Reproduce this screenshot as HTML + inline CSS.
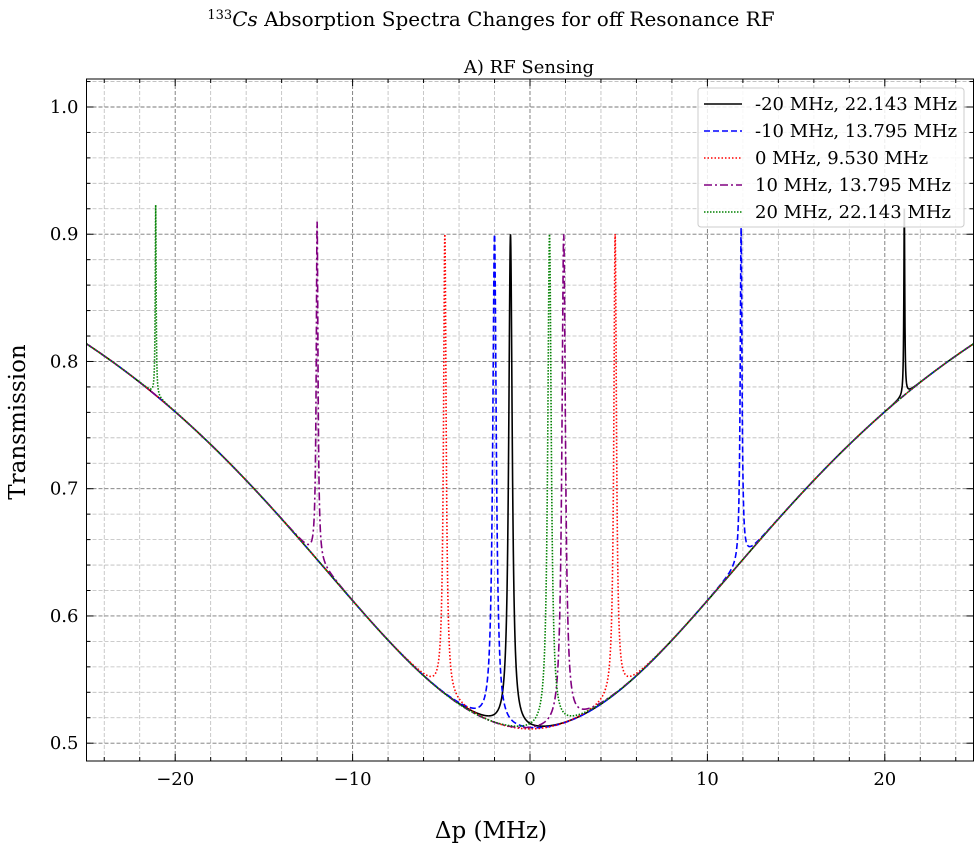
<!DOCTYPE html>
<html><head><meta charset="utf-8"><style>
html,body{margin:0;padding:0;background:#fff;}
svg{display:block;font-family:"DejaVu Serif","Liberation Serif",serif;}
</style></head><body>
<svg id="chart" width="980" height="852" viewBox="0 0 980 852" xmlns="http://www.w3.org/2000/svg">
<text x="491" y="26" text-anchor="middle" font-size="20"><tspan font-size="13" dy="-7">133</tspan><tspan font-style="italic" dy="7">Cs</tspan> Absorption Spectra Changes for off Resonance RF</text>
<text x="529" y="73" text-anchor="middle" font-size="18">A) RF Sensing</text>
<text x="491" y="838" text-anchor="middle" font-size="23">Δp (MHz)</text>
<text x="25" y="422" text-anchor="middle" font-size="23" transform="rotate(-90 25 422)">Transmission</text>
<g id="grid"></g>
<g id="series"></g>
<g id="axes"></g>
<g id="legend"></g>
</svg>
<script>
const seriesLabels = ["-20 MHz, 22.143 MHz","-10 MHz, 13.795 MHz","0 MHz, 9.530 MHz","10 MHz, 13.795 MHz","20 MHz, 22.143 MHz"];
const seriesColors = ["#000","#0000ff","#ff0000","#800080","#008000"];
const seriesDash = ["","6,3","1.5,2","8,3,2,3","1.5,1.5"];
const peakPosA = [-1.1,-2.0,-4.8,-12.0,-21.1];
const peakPosB = [21.1,11.9,4.8,1.9,1.1];
const peakHeightA = [0.90,0.90,0.90,0.91,0.923];
const peakHeightB = [0.92,0.905,0.90,0.90,0.90];
const peakWidthA = [0.12,0.12,0.09,0.06,0.03];
const peakWidthB = [0.03,0.06,0.09,0.12,0.12];
const baseDepth = 0.489;
const baseWidth = 19.6;
const xTicks = [-20,-10,0,10,20];
const yTicks = [0.5,0.6,0.7,0.8,0.9,1.0];

const L=86.5,R=973.5,T=79,B=761;
const xmin=-25,xmax=25,ymin=0.486,ymax=1.022;
const X=v=>L+(v-xmin)/(xmax-xmin)*(R-L);
const Y=v=>B-(v-ymin)/(ymax-ymin)*(B-T);
const NS="http://www.w3.org/2000/svg";
function mk(tag,attrs,parent){const e=document.createElementNS(NS,tag);for(const k in attrs)e.setAttribute(k,attrs[k]);parent.appendChild(e);return e;}
const grid=document.getElementById('grid'),axes=document.getElementById('axes'),sg=document.getElementById('series'),lg=document.getElementById('legend');

for(let v=-24;v<=24;v+=2){const major=v%10===0;
 const l=mk('line',{x1:X(v),x2:X(v),y1:T,y2:B,stroke:major?'#777':'#bbb','stroke-width':major?0.9:0.8,'stroke-dasharray':'4,2'},grid);
 
 }
for(let i=25;i<=51;i++){const v=i/50;const major=i%5===0;
 const l=mk('line',{x1:L,x2:R,y1:Y(v),y2:Y(v),stroke:major?'#777':'#bbb','stroke-width':major?0.9:0.8,'stroke-dasharray':'4,2'},grid);
 
 }

function base(x){return 1-baseDepth/(1+(x/baseWidth)**2);}
function peak(x,x0,h,g){const b0=base(x0);return (h-b0)*g*g/((x-x0)**2+g*g);}
seriesLabels.forEach((lab,i)=>{
 let d='';const N=5000;
 for(let k=0;k<=N;k++){const x=xmin+(xmax-xmin)*k/N;
  const y=base(x)+peak(x,peakPosA[i],peakHeightA[i],peakWidthA[i])+peak(x,peakPosB[i],peakHeightB[i],peakWidthB[i]);
  d+=(k?'L':'M')+X(x).toFixed(2)+','+Y(y).toFixed(2);}
 const p=mk('path',{d:d,fill:'none',stroke:seriesColors[i],'stroke-width':1.6,'stroke-dasharray':seriesDash[i]},sg);
 
 
});

const fr=mk('rect',{x:L,y:T,width:R-L,height:B-T,fill:'none',stroke:'#000','stroke-width':1},axes);


for(let v=-24;v<=24;v+=2){const major=v%10===0;const len=major?7:4;
 mk('line',{x1:X(v),x2:X(v),y1:B,y2:B-len,stroke:'#000'},axes);
 mk('line',{x1:X(v),x2:X(v),y1:T,y2:T+len,stroke:'#000'},axes);}
for(let i=25;i<=51;i++){const v=i/50;const major=i%5===0;const len=major?7:4;
 mk('line',{x1:L,x2:L+len,y1:Y(v),y2:Y(v),stroke:'#000'},axes);
 mk('line',{x1:R,x2:R-len,y1:Y(v),y2:Y(v),stroke:'#000'},axes);}
xTicks.forEach(v=>{const t=mk('text',{x:X(v),y:B+24,'text-anchor':'middle','font-size':18},axes);
 t.textContent=(v<0?'\u2212'+(-v):v);
 
 });
yTicks.forEach(v=>{const t=mk('text',{x:L-8,y:Y(v)+6,'text-anchor':'end','font-size':18},axes);
 t.textContent=v.toFixed(1);
 
 });

const lb=mk('rect',{x:698,y:88,width:266,height:139,rx:3,fill:'#fff','fill-opacity':0.85,stroke:'#ccc'},lg);


seriesLabels.forEach((lab,i)=>{const y=104+i*27;
 const g=mk('g',{},lg);
 
 
 mk('line',{x1:704,x2:742,y1:y,y2:y,stroke:seriesColors[i],'stroke-width':1.5,'stroke-dasharray':seriesDash[i]},g);
 const t=mk('text',{x:755,y:y+6,'font-size':18},g);t.textContent=lab;});
</script>
</body></html>
